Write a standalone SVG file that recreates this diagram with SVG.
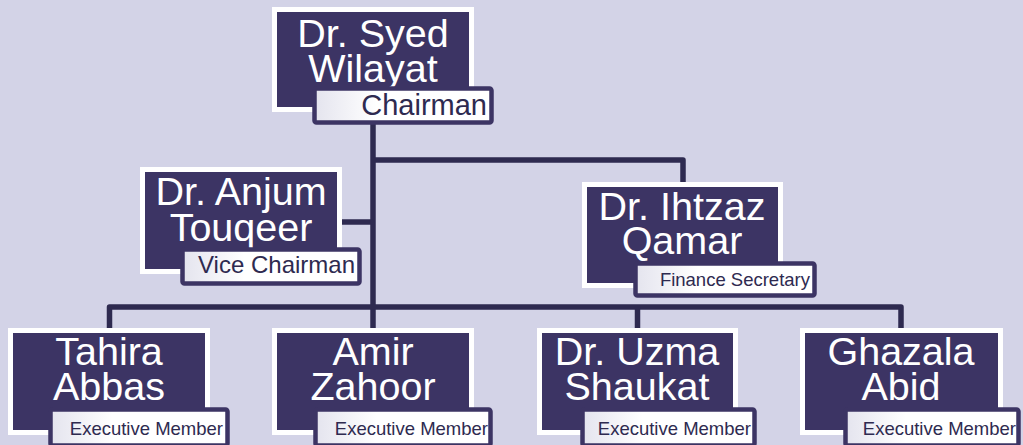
<svg xmlns="http://www.w3.org/2000/svg" width="1023" height="445" viewBox="0 0 1023 445">
<defs>
<linearGradient id="lg" x1="0" y1="0" x2="1" y2="0">
<stop offset="0" stop-color="#E4E4EE"/>
<stop offset="0.35" stop-color="#FFFFFF"/>
<stop offset="1" stop-color="#FFFFFF"/>
</linearGradient>
<style>
.box{fill:#3C3464;stroke:#FFFFFF;stroke-width:5}
.lbl{fill:url(#lg);stroke:#3C3464;stroke-width:4.5}
.name{font-family:"Liberation Sans",Arial,sans-serif;font-size:39.5px;fill:#FFFFFF;text-anchor:middle}
.role{font-family:"Liberation Sans",Arial,sans-serif;fill:#2E2A50;text-anchor:end}
.con{fill:none;stroke:#2E2A50;stroke-width:5.5;stroke-linejoin:round}
</style>
</defs>
<rect x="0" y="0" width="1023" height="445" fill="#D3D3E7"/>
<g id="connectors">
<path class="con" d="M373,112 V330"/>
<path class="con" d="M373,160 H683 V184"/>
<path class="con" d="M342,222 H373"/>
<path class="con" d="M109.5,330 V307 H901 V330"/>
<path class="con" d="M637.5,307 V330"/>
</g>
<g id="syed">
<rect class="box" x="274.5" y="9.5" width="197" height="100"/>
<text class="name" x="373" y="47">Dr. Syed<tspan x="373" y="82">Wilayat</tspan></text>
<rect class="lbl" x="314.5" y="88.5" width="177" height="34" rx="2"/>
<text class="role" x="487" y="115" font-size="29">Chairman</text>
</g>
<g id="anjum">
<rect class="box" x="142.5" y="169.5" width="197" height="102"/>
<text class="name" x="241" y="205">Dr. Anjum<tspan x="241" y="241">Touqeer</tspan></text>
<rect class="lbl" x="182.5" y="249.5" width="177" height="34" rx="2"/>
<text class="role" x="355" y="273" font-size="24">Vice Chairman</text>
</g>
<g id="ihtzaz">
<rect class="box" x="584.5" y="184.5" width="196" height="101"/>
<text class="name" x="682" y="220">Dr. Ihtzaz<tspan x="682" y="254">Qamar</tspan></text>
<rect class="lbl" x="635.5" y="263.5" width="179" height="32" rx="2"/>
<text class="role" x="810" y="286" font-size="18.5">Finance Secretary</text>
</g>
<g id="tahira">
<rect class="box" x="10.5" y="330.5" width="197" height="102"/>
<text class="name" x="109" y="365">Tahira<tspan x="109" y="400">Abbas</tspan></text>
<rect class="lbl" x="50.5" y="409.5" width="177" height="36" rx="2"/>
<text class="role" x="223" y="435" font-size="18.5">Executive Member</text>
</g>
<g id="amir">
<rect class="box" x="274.5" y="330.5" width="197" height="102"/>
<text class="name" x="373" y="365">Amir<tspan x="373" y="400">Zahoor</tspan></text>
<rect class="lbl" x="315.5" y="409.5" width="175" height="36" rx="2"/>
<text class="role" x="488" y="435" font-size="18.5">Executive Member</text>
</g>
<g id="uzma">
<rect class="box" x="539.5" y="330.5" width="196" height="102"/>
<text class="name" x="637" y="365">Dr. Uzma<tspan x="637" y="400">Shaukat</tspan></text>
<rect class="lbl" x="582.5" y="409.5" width="172" height="36" rx="2"/>
<text class="role" x="751" y="435" font-size="18.5">Executive Member</text>
</g>
<g id="ghazala">
<rect class="box" x="802.5" y="330.5" width="198" height="102"/>
<text class="name" x="901" y="365">Ghazala<tspan x="901" y="400">Abid</tspan></text>
<rect class="lbl" x="845.5" y="409.5" width="173" height="36" rx="2"/>
<text class="role" x="1016" y="435" font-size="18.5">Executive Member</text>
</g>
</svg>
